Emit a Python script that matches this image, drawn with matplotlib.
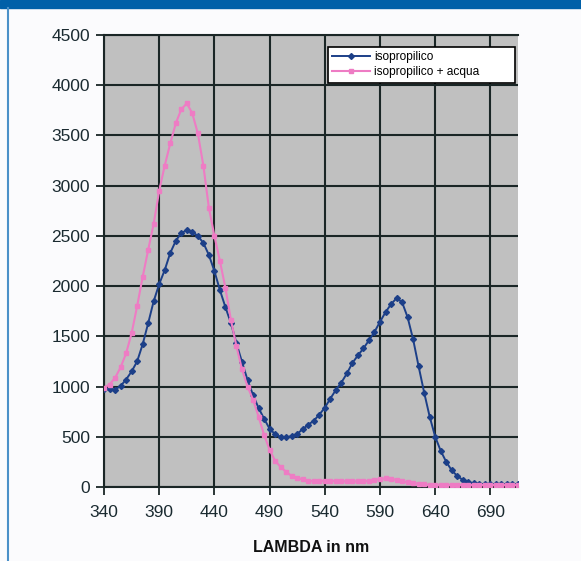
import numpy as np
from matplotlib import pyplot as plt

plt.rcParams['font.family'] = ['Liberation Sans', 'DejaVu Sans']

# wavelengths in nm
lam = np.arange(340, 716, 5)

# isopropilico
iso = [980, 975, 970, 1005, 1070, 1150, 1250, 1420, 1630, 1850,
       2020, 2160, 2330, 2450, 2530, 2555, 2540, 2500, 2430, 2310,
       2150, 1960, 1790, 1630, 1430, 1245, 1066, 916, 787, 680,
       580, 525, 500, 495, 505, 530, 575, 620, 660, 720,
       790, 880, 966, 1040, 1130, 1235, 1310, 1380, 1460, 1544,
       1645, 1740, 1820, 1880, 1840, 1690, 1470, 1200, 940, 700,
       500, 360, 250, 165, 110, 70, 45, 35, 30, 28,
       25, 25, 25, 25, 25, 25]

# isopropilico + acqua
iso_acq = [990, 1020, 1086, 1190, 1330, 1530, 1800, 2090, 2360, 2620,
           2950, 3200, 3420, 3620, 3760, 3820, 3720, 3520, 3200, 2780,
           2500, 2250, 1980, 1660, 1400, 1170, 1000, 870, 700, 520,
           370, 260, 200, 150, 110, 90, 75, 60, 58, 58,
           60, 60, 60, 58, 55, 55, 55, 55, 60, 70,
           80, 85, 80, 70, 55, 45, 40, 30, 25, 22,
           20, 20, 20, 20, 20, 20, 20, 20, 20, 20,
           20, 20, 20, 20, 20, 20]

xticks = np.arange(340, 691, 50)
yticks = np.arange(0, 4501, 500)

fig = plt.figure(figsize=(5.81, 5.61), dpi=100)
fig.patch.set_facecolor('#fbfbfd')

# blue frame of the page
fig.add_artist(plt.Rectangle((0, 1 - 8 / 561), 1, 8 / 561, transform=fig.transFigure,
                             color='#0060a8', zorder=0))
fig.add_artist(plt.Line2D([7.5 / 581, 7.5 / 581], [0, 1 - 8 / 561], transform=fig.transFigure,
                          color='#4a90c8', lw=1.5))

ax = fig.add_axes([104 / 581, 1 - 487 / 561, 414 / 581, 452 / 561])
ax.set_facecolor('#c0c0c0')

ax.plot(lam, iso, color='#1c3f88', lw=1.4, marker='D', ms=3, label='isopropilico', zorder=3)
ax.plot(lam, iso_acq, color='#ee7cc4', lw=1.5, marker='s', ms=2.5, label='isopropilico + acqua', zorder=3)

ax.set_xlim(340, 715)
ax.set_ylim(0, 4500)
ax.set_xticks(xticks)
ax.set_yticks(yticks)
ax.grid(True, color='#1a2626', lw=1.5)
ax.set_axisbelow(True)
ax.tick_params(direction='out', length=6, width=1.3, labelsize=12.5, color='#1a2626',
               labelcolor='#1a2a30')
ax.tick_params(axis='x', pad=7)
ax.tick_params(axis='y', pad=4)
for s in ['left', 'bottom', 'top']:
    ax.spines[s].set_color('#1a2626')
    ax.spines[s].set_linewidth(1.5)
ax.spines['right'].set_visible(False)

ax.set_xlabel('LAMBDA in nm', fontsize=11.5, fontweight='bold', labelpad=14, color='#111111')

leg = ax.legend(loc='upper left', bbox_to_anchor=(0.541, 0.894, 0.452, 0.079), mode='expand',
                borderaxespad=0, fontsize=8.6, fancybox=False, framealpha=1, edgecolor='black',
                handlelength=3.2, handletextpad=0.3, borderpad=0.35, labelspacing=0.25)
leg.get_frame().set_linewidth(1.2)

plt.savefig('out.png', dpi=100, facecolor=fig.get_facecolor())
